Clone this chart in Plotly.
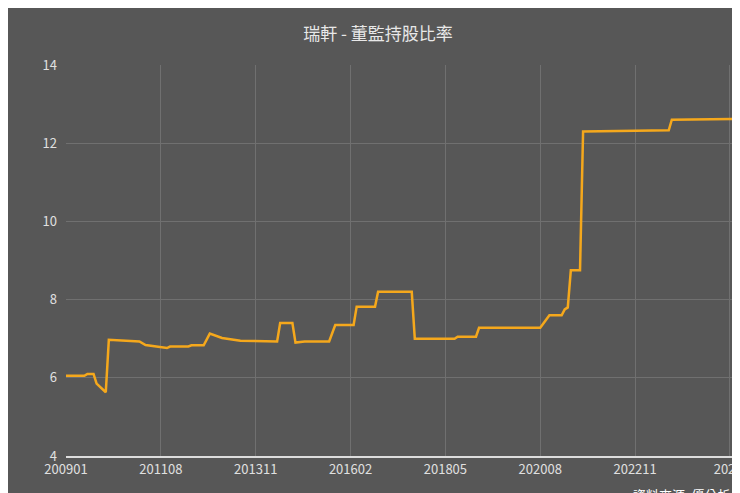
import plotly.graph_objects as go

# breakpoints: month offsets from 2009-01 and holding ratio (%)
month_offsets = [0, 6, 7, 9, 10, 13, 14, 24, 26, 33, 34, 40, 41, 45, 47, 51, 57, 69, 70, 74, 75, 78,
                 86, 88, 94, 95, 101, 102, 113, 114, 127, 128, 134, 135, 155, 158, 162, 163, 164,
                 165, 168, 169, 186, 197, 198, 218]
ratios = [6.05, 6.05, 6.1, 6.1, 5.85, 5.63, 6.97, 6.93, 6.84, 6.76, 6.8, 6.8, 6.83, 6.83, 7.13, 7.02,
          6.95, 6.93, 7.4, 7.4, 6.9, 6.93, 6.93, 7.35, 7.35, 7.82, 7.82, 8.2, 8.2, 7.0, 7.0, 7.05,
          7.05, 7.28, 7.28, 7.6, 7.6, 7.75, 7.8, 8.75, 8.75, 12.3, 12.32, 12.33, 12.6, 12.62]
tick_offsets = [0, 31, 62, 93, 124, 155, 186, 217]
tick_labels = ["200901", "201108", "201311", "201602", "201805", "202008", "202211", "202..."]

def label(o):
    y, m = 2009 + o // 12, o % 12 + 1
    return f"{y}{m:02d}"

fig = go.Figure(go.Scatter(
    x=month_offsets, y=ratios, mode="lines",
    line=dict(color="#f5a81c", width=2.5),
    text=[label(o) for o in month_offsets], hovertemplate="%{text}: %{y}<extra></extra>"))

font = "Noto Sans CJK TC"
fig.update_layout(
    width=740, height=493, paper_bgcolor="#575757", plot_bgcolor="#575757",
    margin=dict(l=58, r=15, t=57, b=45, autoexpand=False),
    title=dict(text="瑞軒 - 董監持股比率", x=0.5, y=0.96, xanchor="center",
               font=dict(family=font, size=17, color="#e8e8e8")),
    font=dict(family=font, color="#e0e0e0", size=13),
    showlegend=False,
    xaxis=dict(range=[0, 218], tickvals=tick_offsets, ticktext=tick_labels, automargin=False,
               showgrid=True, gridcolor="#707070", zeroline=False,
               showline=True, linecolor="#dddddd", linewidth=2, ticks=""),
    yaxis=dict(range=[4, 14], dtick=2, showgrid=True, gridcolor="#707070", zeroline=False,
               ticks="", ticklabelstandoff=8, automargin=False),
    annotations=[dict(text="資料來源: 優分析", xref="paper", yref="paper", x=1.0, y=-0.07,
                      xanchor="right", yanchor="top", showarrow=False,
                      font=dict(family=font, size=13, color="#ffffff"))],
)
fig.write_html("out.html")
